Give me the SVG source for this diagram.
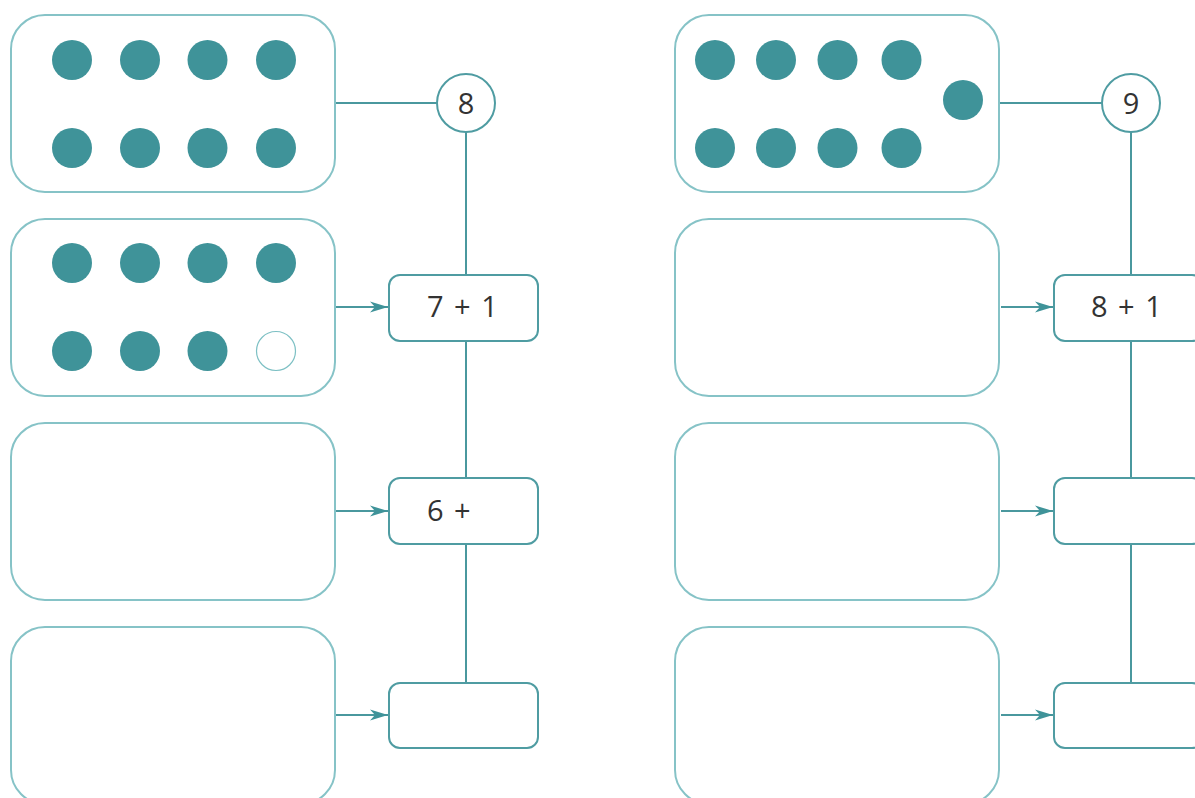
<svg xmlns="http://www.w3.org/2000/svg" width="1195" height="798" viewBox="0 0 1195 798">
<style>
.big{fill:#fff;stroke:#86c3c7;stroke-width:2}
.small{fill:#fff;stroke:#4f9ca2;stroke-width:2}
.circ{fill:#fff;stroke:#4f9ca2;stroke-width:2}
.dot{fill:#3f9399}
.empty{fill:#fff;stroke:#7dc0c4;stroke-width:1.2}
.ln{stroke:#4a989e;stroke-width:2;fill:none}
.t{font-family:"Open Sans","Noto Sans",sans-serif;font-size:29px;fill:#333;word-spacing:3px}
</style>
<defs>
<marker id="ah" viewBox="0 0 18 12" refX="18" refY="6" markerWidth="18" markerHeight="12" markerUnits="userSpaceOnUse" orient="auto">
<path d="M0,0.5 L18,6 L0,11.5 L5,6 Z" fill="#3f9399"/>
</marker>
</defs>
<rect width="1195" height="798" fill="#fff"/>
<g id="connectors">
<line class="ln" x1="335" y1="103" x2="437" y2="103"/>
<line class="ln" x1="466" y1="132" x2="466" y2="275"/>
<line class="ln" x1="466" y1="341" x2="466" y2="478"/>
<line class="ln" x1="466" y1="544" x2="466" y2="683"/>
<line class="ln" x1="336" y1="307" x2="388" y2="307" marker-end="url(#ah)"/>
<line class="ln" x1="336" y1="511" x2="388" y2="511" marker-end="url(#ah)"/>
<line class="ln" x1="336" y1="715" x2="388" y2="715" marker-end="url(#ah)"/>
<line class="ln" x1="1000" y1="103" x2="1102" y2="103"/>
<line class="ln" x1="1131" y1="132" x2="1131" y2="275"/>
<line class="ln" x1="1131" y1="341" x2="1131" y2="478"/>
<line class="ln" x1="1131" y1="544" x2="1131" y2="683"/>
<line class="ln" x1="1001" y1="307" x2="1053" y2="307" marker-end="url(#ah)"/>
<line class="ln" x1="1001" y1="511" x2="1053" y2="511" marker-end="url(#ah)"/>
<line class="ln" x1="1001" y1="715" x2="1053" y2="715" marker-end="url(#ah)"/>
</g>
<g id="left-box1">
<rect class="big" x="11" y="15" width="324" height="177" rx="34"/>
<circle class="dot" cx="72" cy="60" r="20"/><circle class="dot" cx="140" cy="60" r="20"/><circle class="dot" cx="207.5" cy="60" r="20"/><circle class="dot" cx="276" cy="60" r="20"/>
<circle class="dot" cx="72" cy="148" r="20"/><circle class="dot" cx="140" cy="148" r="20"/><circle class="dot" cx="207.5" cy="148" r="20"/><circle class="dot" cx="276" cy="148" r="20"/>
</g>
<g id="left-box2">
<rect class="big" x="11" y="219" width="324" height="177" rx="34"/>
<circle class="dot" cx="72" cy="263" r="20"/><circle class="dot" cx="140" cy="263" r="20"/><circle class="dot" cx="207.5" cy="263" r="20"/><circle class="dot" cx="276" cy="263" r="20"/>
<circle class="dot" cx="72" cy="351" r="20"/><circle class="dot" cx="140" cy="351" r="20"/><circle class="dot" cx="207.5" cy="351" r="20"/><circle class="empty" cx="276" cy="351" r="19.5"/>
</g>
<g id="left-box3"><rect class="big" x="11" y="423" width="324" height="177" rx="34"/></g>
<g id="left-box4"><rect class="big" x="11" y="627" width="324" height="177" rx="34"/></g>
<g id="left-total"><circle class="circ" cx="466" cy="103" r="29"/><text class="t" x="466" y="113.5" text-anchor="middle">8</text></g>
<g id="left-sum1"><rect class="small" x="389" y="275" width="149" height="66" rx="11"/><text class="t" x="427" y="317">7 + 1</text></g>
<g id="left-sum2"><rect class="small" x="389" y="478" width="149" height="66" rx="11"/><text class="t" x="427" y="521">6 +</text></g>
<g id="left-sum3"><rect class="small" x="389" y="683" width="149" height="65" rx="11"/></g>
<g id="right-box1">
<rect class="big" x="675" y="15" width="324" height="177" rx="34"/>
<circle class="dot" cx="715" cy="60" r="20"/><circle class="dot" cx="776" cy="60" r="20"/><circle class="dot" cx="837.5" cy="60" r="20"/><circle class="dot" cx="901.5" cy="60" r="20"/>
<circle class="dot" cx="963" cy="100" r="20"/>
<circle class="dot" cx="715" cy="148" r="20"/><circle class="dot" cx="776" cy="148" r="20"/><circle class="dot" cx="837.5" cy="148" r="20"/><circle class="dot" cx="901.5" cy="148" r="20"/>
</g>
<g id="right-box2"><rect class="big" x="675" y="219" width="324" height="177" rx="34"/></g>
<g id="right-box3"><rect class="big" x="675" y="423" width="324" height="177" rx="34"/></g>
<g id="right-box4"><rect class="big" x="675" y="627" width="324" height="177" rx="34"/></g>
<g id="right-total"><circle class="circ" cx="1131" cy="103" r="29"/><text class="t" x="1131" y="113.5" text-anchor="middle">9</text></g>
<g id="right-sum1"><rect class="small" x="1054" y="275" width="149" height="66" rx="11"/><text class="t" x="1091" y="317">8 + 1</text></g>
<g id="right-sum2"><rect class="small" x="1054" y="478" width="149" height="66" rx="11"/></g>
<g id="right-sum3"><rect class="small" x="1054" y="683" width="149" height="65" rx="11"/></g>
</svg>
